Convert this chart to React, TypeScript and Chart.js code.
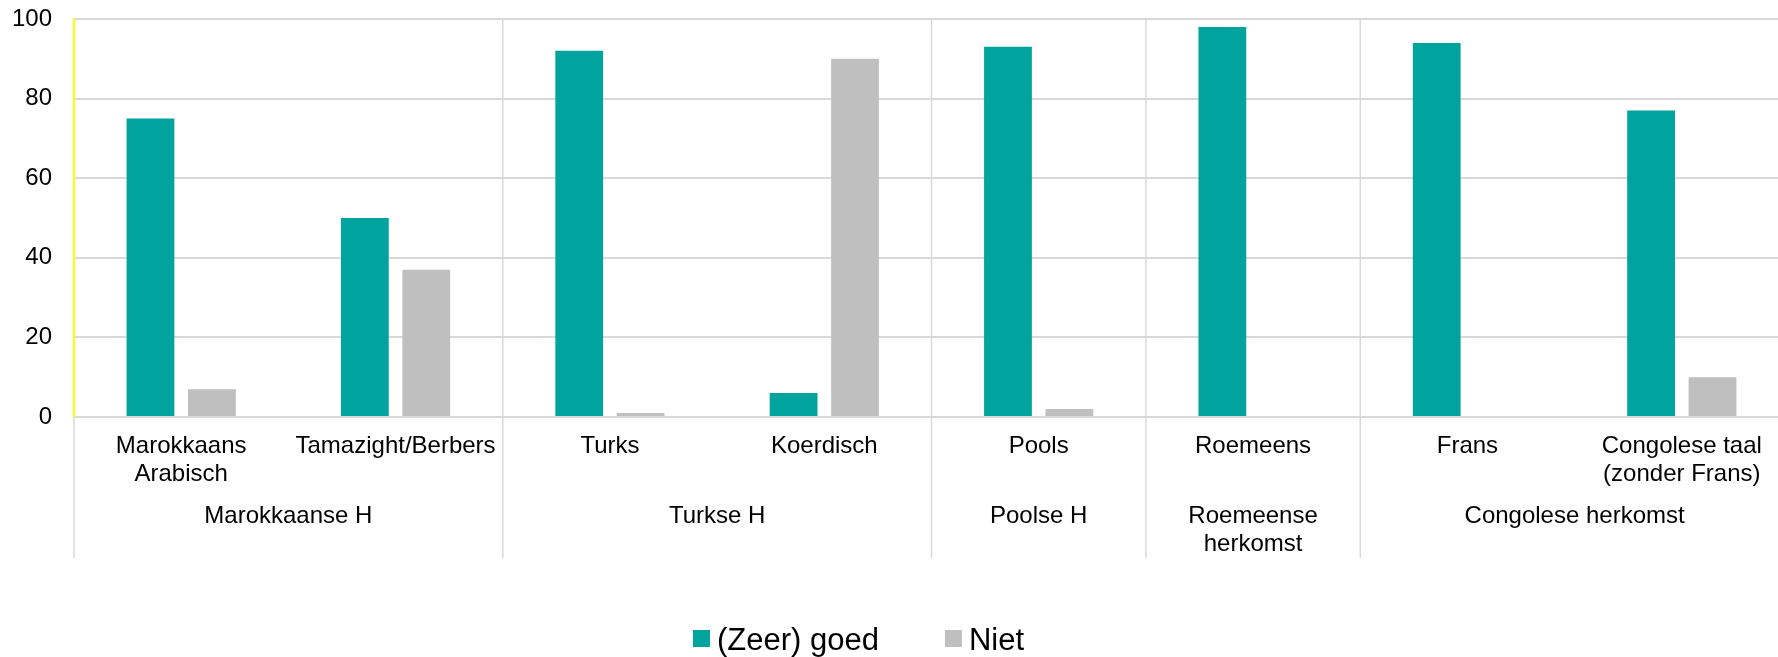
import React, { useEffect, useRef } from 'react';
import { Chart, registerables } from 'chart.js';

Chart.register(...registerables);

// ---- data ----
const categoryLabels: (string | string[])[] = [
  ['Marokkaans', 'Arabisch'],
  'Tamazight/Berbers',
  'Turks',
  'Koerdisch',
  'Pools',
  'Roemeens',
  'Frans',
  ['Congolese taal', '(zonder Frans)'],
];
const groupLabels: (string | string[])[] = [
  'Marokkaanse H',
  'Turkse H',
  'Poolse H',
  ['Roemeense', 'herkomst'],
  'Congolese herkomst',
];
const groupSizes = [2, 2, 1, 1, 2];
const seriesNames = ['(Zeer) goed', 'Niet'];
const goedValues = [75, 50, 92, 6, 93, 98, 94, 77];
const nietValues = [7, 37, 1, 90, 2, 0, 0, 10];
const yMin = 0;
const yMax = 100;
const yStep = 20;

const FONT = '"Liberation Sans", Arial, Helvetica, sans-serif';
const GREEN = '#00A39D';
const GREY = '#BFBFBF';
const GRID = '#D9D9D9';

// group boundaries and centers (in category units)
const groupEdges: number[] = [0];
groupSizes.forEach((s) => groupEdges.push(groupEdges[groupEdges.length - 1] + s));
const groupCenters = groupSizes.map((s, i) => groupEdges[i] + s / 2);

const separatorPlugin = {
  id: 'groupSeparators',
  beforeDatasetsDraw(chart: any) {
    const { ctx, chartArea } = chart;
    const x2 = chart.scales.x2;
    ctx.save();
    ctx.strokeStyle = GRID;
    ctx.lineWidth = 1.5;
    groupEdges.forEach((edge, i) => {
      const px = x2.getPixelForValue(edge);
      const top = i === 0 ? chartArea.bottom : chartArea.top;
      ctx.beginPath();
      ctx.moveTo(px, top);
      ctx.lineTo(px, x2.bottom);
      ctx.stroke();
    });
    ctx.restore();
  },
};

const legendPlugin = {
  id: 'customLegend',
  afterDraw(chart: any) {
    const { ctx } = chart;
    const datasets = chart.data.datasets;
    const box = 17;
    const gapText = 7;
    const gapItems = 66;
    const centerX = 858.5;
    const boxTop = 630;
    const baseline = 650;
    ctx.save();
    ctx.font = `31px ${FONT}`;
    ctx.textBaseline = 'alphabetic';
    ctx.textAlign = 'left';
    const widths = datasets.map((d: any) => ctx.measureText(d.label).width);
    const total =
      widths.reduce((a: number, w: number) => a + box + gapText + w, 0) +
      gapItems * (datasets.length - 1);
    let x = centerX - total / 2;
    datasets.forEach((d: any, i: number) => {
      ctx.fillStyle = d.backgroundColor;
      ctx.fillRect(x, boxTop, box, box);
      ctx.fillStyle = '#000';
      ctx.fillText(d.label, x + box + gapText, baseline);
      x += box + gapText + widths[i] + gapItems;
    });
    ctx.restore();
  },
};

export default function App() {
  const canvasRef = useRef<HTMLCanvasElement | null>(null);

  useEffect(() => {
    if (!canvasRef.current) return;
    const chart = new Chart(canvasRef.current, {
      type: 'bar',
      data: {
        labels: categoryLabels as any,
        datasets: [
          {
            label: seriesNames[0],
            data: goedValues,
            backgroundColor: GREEN,
            borderWidth: 0,
            barPercentage: 0.778,
            categoryPercentage: 0.573,
          },
          {
            label: seriesNames[1],
            data: nietValues,
            backgroundColor: GREY,
            borderWidth: 0,
            barPercentage: 0.778,
            categoryPercentage: 0.573,
          },
        ],
      },
      options: {
        animation: false,
        responsive: true,
        maintainAspectRatio: false,
        layout: { padding: { top: 19, right: 11, bottom: 99, left: 0 } },
        plugins: {
          legend: { display: false },
          tooltip: { enabled: false },
          title: { display: false },
        },
        scales: {
          x: {
            type: 'category',
            position: 'bottom',
            weight: 0,
            offset: true,
            grid: { display: false, drawTicks: false },
            border: { display: false },
            ticks: {
              color: '#000',
              font: { family: FONT, size: 24, lineHeight: 1.15 },
              padding: 16,
              maxRotation: 0,
              minRotation: 0,
              autoSkip: false,
            },
            afterFit: (s: any) => {
              s.height = 73;
            },
          },
          x2: {
            type: 'linear',
            position: 'bottom',
            weight: 1,
            offset: false,
            min: 0,
            max: categoryLabels.length,
            grid: { display: false, drawTicks: false, offset: false },
            border: { display: false },
            afterBuildTicks: (s: any) => {
              s.ticks = groupCenters.map((v) => ({ value: v }));
            },
            ticks: {
              color: '#000',
              font: { family: FONT, size: 24, lineHeight: 1.15 },
              padding: 13,
              maxRotation: 0,
              minRotation: 0,
              autoSkip: false,
              callback: (_v: any, i: number) => groupLabels[i] as any,
            },
            afterFit: (s: any) => {
              s.height = 68;
            },
          },
          y: {
            min: yMin,
            max: yMax,
            ticks: {
              stepSize: yStep,
              color: '#000',
              font: { family: FONT, size: 24 },
              padding: 22,
            },
            grid: { color: GRID, lineWidth: 2, drawTicks: false },
            border: { color: '#FFFF00', width: 2 },
            afterFit: (s: any) => {
              s.width = 74;
              s.paddingTop = 0;
              s.paddingBottom = 0;
            },
          },
        },
      } as any,
      plugins: [separatorPlugin, legendPlugin],
    });
    return () => chart.destroy();
  }, []);

  return (
    <div
      style={{
        position: 'fixed',
        left: 0,
        top: 0,
        width: 1778,
        height: 657,
        overflow: 'hidden',
        background: '#fff',
      }}
    >
      <div style={{ position: 'relative', width: 1800, height: 657 }}>
        <canvas ref={canvasRef} />
      </div>
    </div>
  );
}
